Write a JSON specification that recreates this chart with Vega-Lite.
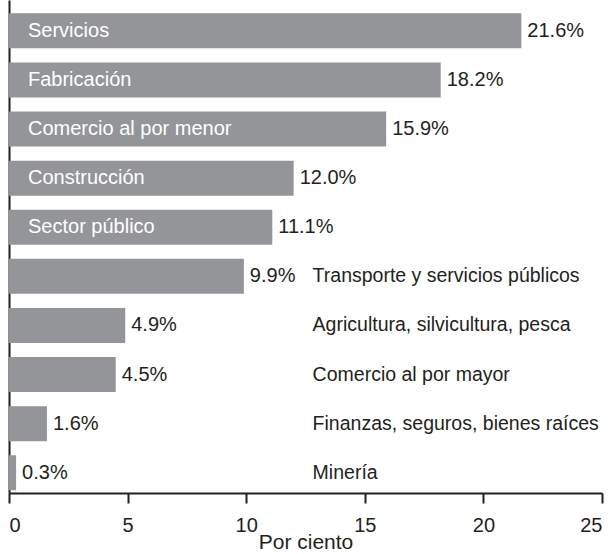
{
  "$schema": "https://vega.github.io/schema/vega-lite/v6.json",
  "autosize": "none",
  "width": 593,
  "height": 493,
  "padding": {"left": 9, "top": 0, "right": 13, "bottom": 61},
  "background": "white",
  "config": {
    "view": {"stroke": null},
    "font": "Liberation Sans",
    "text": {"font": "Liberation Sans", "fontSize": 20}
  },
  "data": {
    "values": [
      {"sector": "Servicios", "pct": 21.6, "txt": "21.6%", "inside": true},
      {"sector": "Fabricación", "pct": 18.2, "txt": "18.2%", "inside": true},
      {"sector": "Comercio al por menor", "pct": 15.9, "txt": "15.9%", "inside": true},
      {"sector": "Construcción", "pct": 12.0, "txt": "12.0%", "inside": true},
      {"sector": "Sector público", "pct": 11.1, "txt": "11.1%", "inside": true},
      {"sector": "Transporte y servicios públicos", "pct": 9.9, "txt": "9.9%", "inside": false},
      {"sector": "Agricultura, silvicultura, pesca", "pct": 4.9, "txt": "4.9%", "inside": false},
      {"sector": "Comercio al por mayor", "pct": 4.5, "txt": "4.5%", "inside": false},
      {"sector": "Finanzas, seguros, bienes raíces", "pct": 1.6, "txt": "1.6%", "inside": false},
      {"sector": "Minería", "pct": 0.3, "txt": "0.3%", "inside": false}
    ]
  },
  "encoding": {
    "y": {
      "field": "sector",
      "type": "nominal",
      "sort": null,
      "scale": {"paddingInner": 0.287, "paddingOuter": 0.164, "align": 0.83},
      "axis": {
        "title": null,
        "labels": false,
        "ticks": false,
        "domain": true,
        "domainColor": "#231f20",
        "domainWidth": 2
      }
    }
  },
  "layer": [
    {
      "mark": {"type": "bar", "color": "#939598"},
      "encoding": {
        "x": {
          "field": "pct",
          "type": "quantitative",
          "scale": {"domain": [0, 25], "nice": false},
          "axis": {
            "title": "Por ciento",
            "values": [0, 5, 10, 15, 20, 25],
            "grid": false,
            "domainColor": "#231f20",
            "domainWidth": 2,
            "tickColor": "#231f20",
            "tickWidth": 2,
            "tickSize": 10,
            "labelFontSize": 20,
            "labelColor": "#231f20",
            "labelFont": "Liberation Sans",
            "labelPadding": 12,
            "titleFontSize": 21,
            "titleFont": "Liberation Sans",
            "titleFontWeight": "normal",
            "titleColor": "#231f20",
            "titlePadding": -4
          }
        }
      }
    },
    {
      "mark": {"type": "text", "align": "left", "baseline": "middle", "dx": 6, "color": "#231f20"},
      "encoding": {
        "x": {"field": "pct", "type": "quantitative"},
        "text": {"field": "txt"}
      }
    },
    {
      "transform": [{"filter": "datum.inside"}],
      "mark": {"type": "text", "align": "left", "baseline": "middle", "dx": 19, "color": "#ffffff"},
      "encoding": {
        "x": {"datum": 0, "type": "quantitative"},
        "text": {"field": "sector"}
      }
    },
    {
      "transform": [{"filter": "!datum.inside"}],
      "mark": {"type": "text", "align": "left", "baseline": "middle", "fontSize": 19.5, "color": "#231f20"},
      "encoding": {
        "x": {"datum": 12.8, "type": "quantitative"},
        "text": {"field": "sector"}
      }
    }
  ]
}
